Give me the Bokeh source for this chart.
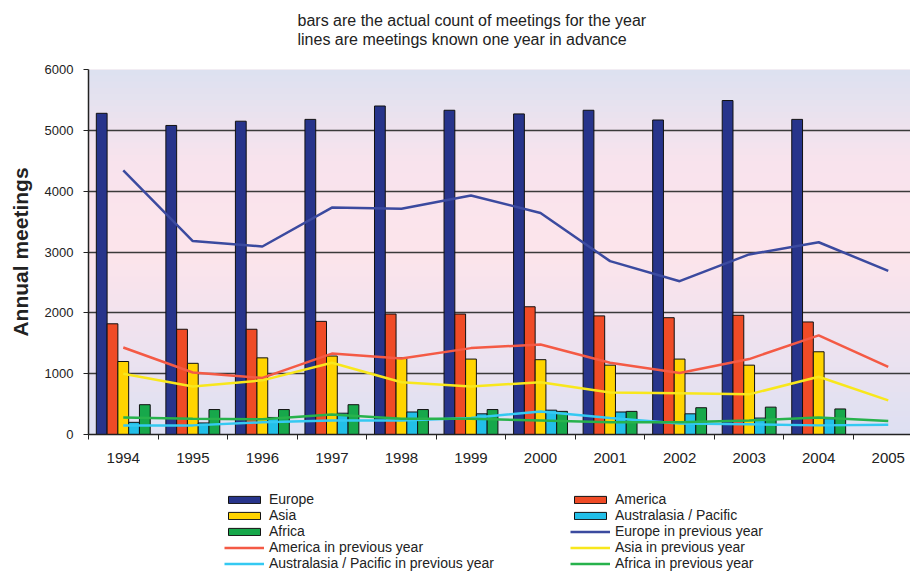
import numpy as np
from bokeh.plotting import figure
from bokeh.layouts import column
from bokeh.models import (ColumnDataSource, Range1d, FixedTicker, SingleIntervalTicker,
                          Legend, LegendItem, Title, BoxAnnotation, CustomJSTickFormatter)
from bokeh.transform import dodge
from bokeh.embed import file_html
from bokeh.resources import INLINE

# ---------------- data ----------------
years = ["1994", "1995", "1996", "1997", "1998", "1999", "2000",
         "2001", "2002", "2003", "2004", "2005"]
bar_years = years[:11]

europe = [5280, 5080, 5150, 5180, 5400, 5330, 5270, 5330, 5170, 5490, 5180]
america = [1820, 1730, 1730, 1860, 1980, 1980, 2100, 1950, 1920, 1960, 1850]
asia = [1200, 1170, 1260, 1290, 1260, 1240, 1230, 1140, 1240, 1140, 1360]
australasia = [200, 190, 280, 350, 370, 340, 400, 370, 340, 270, 260]
africa = [490, 410, 410, 490, 410, 410, 380, 380, 440, 450, 420]

europe_prev = [4340, 3180, 3090, 3730, 3710, 3930, 3640, 2850, 2520, 2960, 3160, 2690]
america_prev = [1430, 1020, 930, 1330, 1250, 1420, 1480, 1180, 1010, 1240, 1630, 1110]
asia_prev = [1000, 790, 890, 1180, 860, 790, 860, 690, 680, 660, 950, 560]
australasia_prev = [150, 150, 200, 230, 230, 270, 380, 270, 180, 170, 150, 160]
africa_prev = [280, 260, 250, 330, 260, 260, 230, 200, 200, 230, 280, 220]

title_text = ("bars are the actual count of meetings for the year\n"
              "lines are meetings known one year in advance")
y_label = "Annual meetings"

# ---------------- sources ----------------
n_all = len(years)
n_bar = len(bar_years)
bar_src = ColumnDataSource(dict(
    x=np.arange(n_bar) + 0.5,
    europe=europe, america=america, asia=asia,
    australasia=australasia, africa=africa))
line_src = ColumnDataSource(dict(
    x=np.arange(n_all) + 0.5,
    europe_prev=europe_prev, america_prev=america_prev, asia_prev=asia_prev,
    australasia_prev=australasia_prev, africa_prev=africa_prev))

FONT = "Liberation Sans"

# ---------------- title strip ----------------
top = figure(width=910, height=60, output_backend="svg", toolbar_location=None,
             title=None, x_axis_location=None, y_axis_location=None,
             x_range=Range1d(0, 1), y_range=Range1d(0, 1),
             min_border_left=88, min_border_right=0, min_border_top=0,
             min_border_bottom=0, outline_line_color=None,
             background_fill_color="white", border_fill_color="white")
top.xgrid.visible = False
top.ygrid.visible = False
top.add_layout(Title(text=title_text, align="left", offset=209, text_font=FONT,
                     text_font_size="16px", text_font_style="normal",
                     text_line_height=1.1, text_color="#222222", standoff=19), "above")

# ---------------- main plot ----------------
p = figure(width=910, height=420, output_backend="svg", toolbar_location=None,
           title=None,
           x_range=Range1d(0, 11.82), y_range=Range1d(0, 6000),
           min_border_left=88, min_border_right=0, min_border_top=9,
           min_border_bottom=46, outline_line_color=None,
           background_fill_color="#f3e3ec", border_fill_color="white")

# gradient background
stops_y = [0, 1500, 3000, 4500, 6000]
stops_rgb = [(221, 224, 242), (238, 226, 239), (252, 228, 235),
             (248, 227, 237), (220, 225, 240)]
edges = np.linspace(0, 6000, 61)
for lo, hi in zip(edges[:-1], edges[1:]):
    mid = (lo + hi) / 2
    rgb = [int(round(np.interp(mid, stops_y, [c[i] for c in stops_rgb]))) for i in range(3)]
    col = "#%02x%02x%02x" % tuple(rgb)
    p.add_layout(BoxAnnotation(bottom=lo, top=min(hi + 20, 6000), fill_color=col,
                               fill_alpha=1.0, line_color=None, level="image"))

# bars
bw = 0.155
bar_specs = [("europe", "#27348b", -0.31), ("america", "#ef4b26", -0.155),
             ("asia", "#ffd400", 0.0), ("australasia", "#22bfe8", 0.155),
             ("africa", "#17a84b", 0.31)]
bar_colors = {k: c for k, c, _ in bar_specs}
for key, color, off in bar_specs:
    p.vbar(x=dodge("x", off), top=key, width=bw, source=bar_src,
           fill_color=color, line_color="#111111", line_width=1)

# lines
line_specs = [("europe_prev", "#3b4a9f"), ("america_prev", "#f45a45"),
              ("asia_prev", "#f8e71c"), ("australasia_prev", "#34c9f2"),
              ("africa_prev", "#27b24c")]
line_colors = dict(line_specs)
for key, color in line_specs:
    p.line(x="x", y=key, source=line_src, line_color=color, line_width=2.5)

# axes
xa = p.xaxis[0]
xa.ticker = FixedTicker(ticks=list(np.arange(n_all) + 0.5),
                        minor_ticks=list(np.arange(n_all + 1)))
xa.formatter = CustomJSTickFormatter(args=dict(labels=years),
                                     code="return labels[Math.floor(tick)] || '';")
xa.major_tick_out = 0
xa.major_tick_in = 0
xa.minor_tick_out = 5
xa.minor_tick_in = 0
xa.minor_tick_line_color = "#222222"
xa.axis_line_color = "#222222"
xa.axis_line_width = 1.5
xa.major_label_standoff = 13
xa.major_label_text_font = FONT
xa.major_label_text_font_size = "15px"
xa.major_label_text_color = "#222222"

ya = p.yaxis[0]
ya.ticker = SingleIntervalTicker(interval=1000, num_minor_ticks=0)
ya.major_tick_out = 5
ya.major_tick_in = 0
ya.minor_tick_line_color = None
ya.major_tick_line_color = "#222222"
ya.axis_line_color = "#222222"
ya.axis_line_width = 1.5
ya.major_label_standoff = 10
ya.major_label_text_font = FONT
ya.major_label_text_font_size = "13px"
ya.major_label_text_color = "#222222"
ya.axis_label = y_label
ya.axis_label_text_font = FONT
ya.axis_label_text_font_style = "bold"
ya.axis_label_text_font_size = "21px"
ya.axis_label_text_color = "#222222"
ya.axis_label_standoff = 10

p.xgrid.visible = False
p.ygrid.grid_line_color = "#3a3a3a"
p.ygrid.grid_line_width = 1.5

# ---------------- legend strip ----------------
# legend keys use a source holding no drawable value, so only the keys show
leg = figure(width=910, height=92, output_backend="svg", toolbar_location=None,
             title=None, x_axis_location=None, y_axis_location=None,
             x_range=Range1d(0, 1), y_range=Range1d(0, 1),
             min_border_left=88, min_border_right=0, min_border_top=0,
             min_border_bottom=0, outline_line_color=None,
             background_fill_color="white", border_fill_color="white")
leg.xgrid.visible = False
leg.ygrid.visible = False
key_src = ColumnDataSource(dict(x=[np.nan], y=[np.nan]))

def key_bar(name):
    return leg.vbar(x="x", top="y", width=0.1, source=key_src,
                    fill_color=bar_colors[name], line_color="#111111", line_width=1)

def key_line(name):
    return leg.line(x="x", y="y", source=key_src, line_color=line_colors[name],
                    line_width=2.5)

col1 = [LegendItem(label="Europe", renderers=[key_bar("europe")]),
        LegendItem(label="Asia", renderers=[key_bar("asia")]),
        LegendItem(label="Africa", renderers=[key_bar("africa")]),
        LegendItem(label="America in previous year", renderers=[key_line("america_prev")]),
        LegendItem(label="Australasia / Pacific in previous year",
                   renderers=[key_line("australasia_prev")])]
col2 = [LegendItem(label="America", renderers=[key_bar("america")]),
        LegendItem(label="Australasia / Pacific", renderers=[key_bar("australasia")]),
        LegendItem(label="Europe in previous year", renderers=[key_line("europe_prev")]),
        LegendItem(label="Asia in previous year", renderers=[key_line("asia_prev")]),
        LegendItem(label="Africa in previous year", renderers=[key_line("africa_prev")])]

for items, xloc in ((col1, 136), (col2, 482)):
    lg = Legend(items=items, location=(xloc, 1), orientation="vertical",
                label_text_font=FONT, label_text_font_size="14px",
                label_text_color="#222222", glyph_width=40, glyph_height=9,
                label_standoff=5, label_height=14, spacing=0, padding=0,
                margin=0, border_line_color=None, background_fill_alpha=0)
    leg.add_layout(lg, "center")

layout = column(top, p, leg, spacing=0)
open("out.html", "w").write(file_html(layout, INLINE))
